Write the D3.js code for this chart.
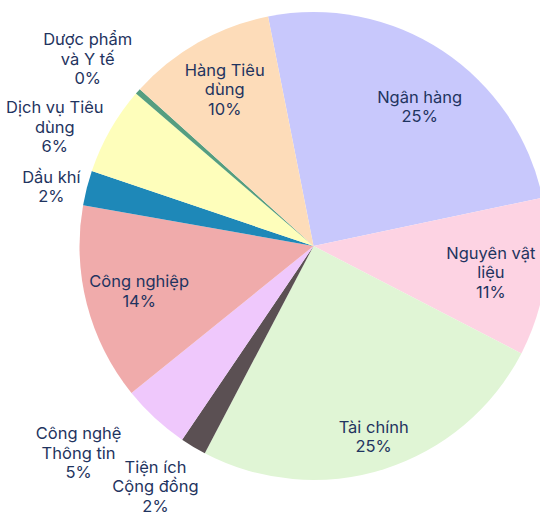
<!DOCTYPE html>
<html>
<head>
<meta charset="utf-8">
<script src="https://cdn.jsdelivr.net/npm/d3@7"></script>
<style>
  body { margin: 0; background: #fff; }
  svg { display: block; font-family: Inter, "Noto Sans", sans-serif; }
</style>
</head>
<body>
<svg id="chart"></svg>
<script>
// sector shares (%), in drawing order (clockwise)
var sectors = ['Ngân hàng', 'Nguyên vật liệu', 'Tài chính', 'Tiện ích Cộng đồng', 'Công nghệ Thông tin',
               'Công nghiệp', 'Dầu khí', 'Dịch vụ Tiêu dùng', 'Dược phẩm và Y tế', 'Hàng Tiêu dùng'];
var shares = [24.8, 10.9, 25.1, 1.8, 4.7, 13.6, 2.4, 6.1, 0.4, 10.2];
// label lines as shown
var labelLines = [['Ngân hàng'], ['Nguyên vật', 'liệu'], ['Tài chính'], ['Tiện ích', 'Cộng đồng'],
                  ['Công nghệ', 'Thông tin'], ['Công nghiệp'], ['Dầu khí'], ['Dịch vụ Tiêu', 'dùng'],
                  ['Dược phẩm', 'và Y tế'], ['Hàng Tiêu', 'dùng']];
var colors = ['#c8c8fc', '#fdd3e3', '#e0f5d5', '#5b5053', '#efc8fc',
              '#f0abab', '#1e88b8', '#fefebb', '#559e80', '#fddcb9'];

function render() {
    var w = 540, h = 512;
    var cx = 313.5, cy = 246, R = 234;
    var fontSize = 16.5, lineH = 19.5;
    var textColor = '#1f3460';

    var svg = d3.select('#chart').attr('width', w).attr('height', h);
    var g = svg.append('g').attr('transform', 'translate(' + cx + ',' + cy + ')');

    var start = -11.2 * Math.PI / 180;
    var pie = d3.pie().sort(null).value(function (d) { return d.v; })
        .startAngle(start).endAngle(start + 2 * Math.PI);

    var data = sectors.map(function (s, i) {
        return { name: s, v: shares[i], lines: labelLines[i], color: colors[i] };
    });
    var arcs = pie(data);

    var arc = d3.arc().innerRadius(0).outerRadius(R);

    g.selectAll('path.slice').data(arcs).enter().append('path')
        .attr('class', 'slice')
        .attr('d', arc)
        .attr('fill', function (d) { return d.data.color; });

    // small slices get their label outside
    var outside = function (d) { return d.data.v < 4.8 || d.data.name === 'Dịch vụ Tiêu dùng'; };

    // small hand nudges so the labels sit where the picture has them
    var nudge = {
        'Ngân hàng': [7, 11], 'Nguyên vật liệu': [-1, 2], 'Tài chính': [0, 0],
        'Công nghiệp': [0, 0], 'Hàng Tiêu dùng': [0, 0],
        'Dầu khí': [4, 0], 'Dịch vụ Tiêu dùng': [8, 4], 'Dược phẩm và Y tế': [9, -20],
        'Công nghệ Thông tin': [-19, 19], 'Tiện ích Cộng đồng': [20, 18]
    };

    var labels = g.selectAll('text.lbl').data(arcs).enter().append('text')
        .attr('class', 'lbl')
        .attr('text-anchor', 'middle')
        .attr('font-size', fontSize)
        .attr('fill', textColor);

    labels.each(function (d) {
        var t = d3.select(this);
        var lines = d.data.lines.concat([Math.round(d.data.v) + '%']);
        lines.forEach(function (l, k) {
            t.append('tspan').attr('x', 0).attr('dy', k === 0 ? 0 : lineH).text(l);
        });
        var n = lines.length;
        var mid = (d.startAngle + d.endAngle) / 2;
        var px, py;
        if (outside(d)) {
            var bb = this.getBBox();
            var x = R * Math.sin(mid), y = -R * Math.cos(mid);
            var dx = bb.width / 2, dy = (n * lineH) / 2;
            if (x < 0) dx = -dx;
            if (y < 0) dy = -dy;
            px = x + dx + Math.abs(dy) * (dx > 0 ? 1 : -1) / 2;
            py = y + dy / (1 + x * x / (y * y));
        } else {
            var rl = d.data.v > 25 ? 200 : 180;
            px = rl * Math.sin(mid);
            py = -rl * Math.cos(mid);
        }
        var nd = nudge[d.data.name] || [0, 0];
        px += nd[0];
        py += nd[1];
        // vertical centring of the block of lines
        var top = py - (n - 1) * lineH / 2 + fontSize * 0.36;
        t.attr('transform', 'translate(' + px + ',' + top + ')');
    });
}

render();
</script>
</body>
</html>
